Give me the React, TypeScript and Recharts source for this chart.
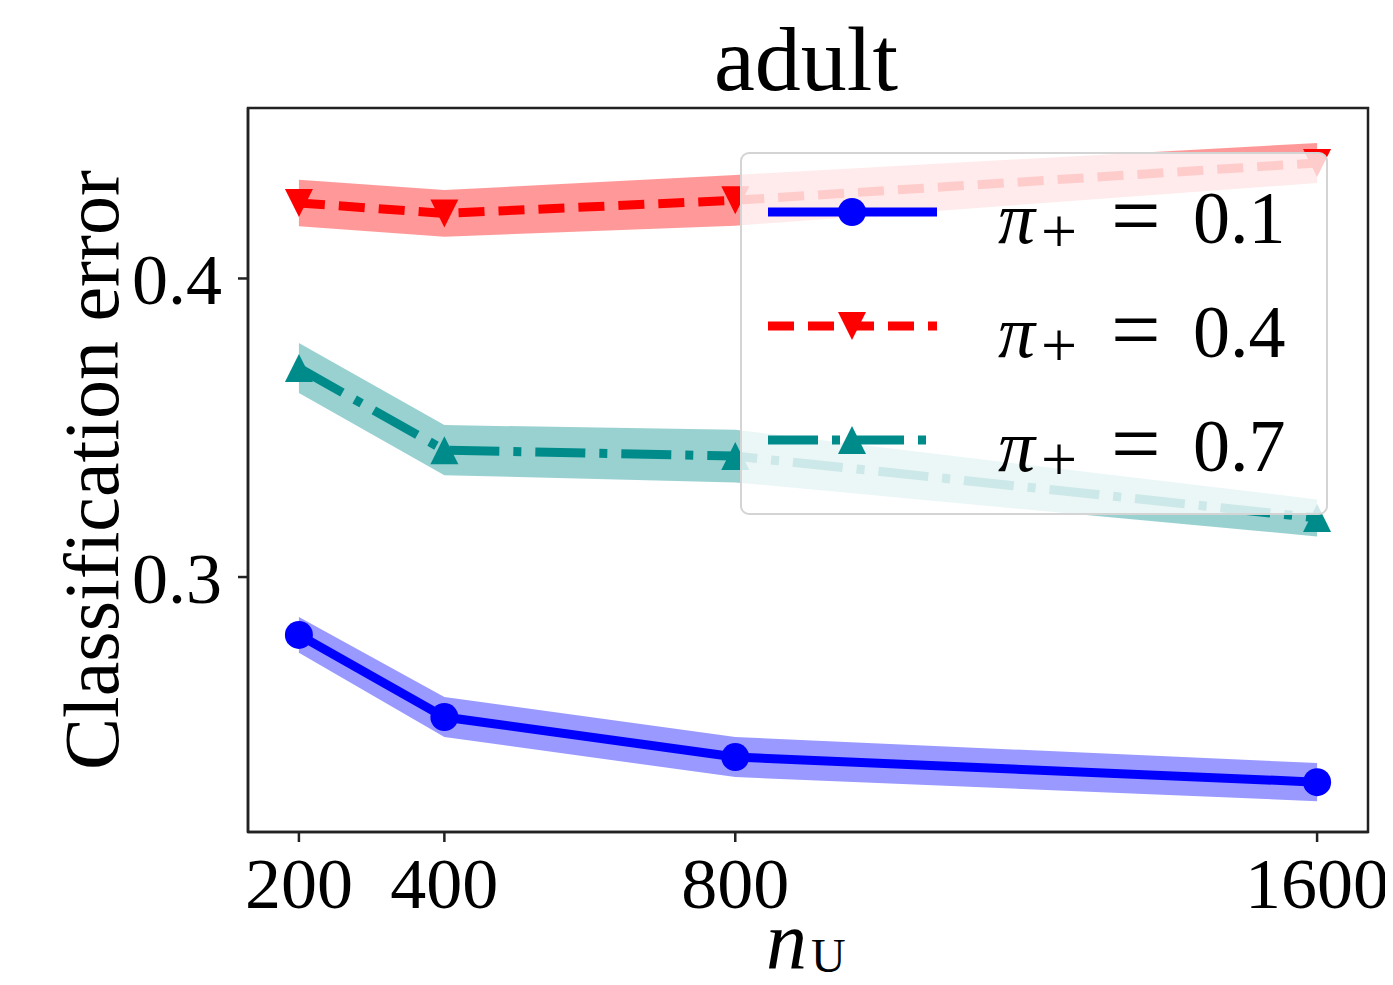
import React from 'react';
import { ComposedChart, Line, Area, XAxis, YAxis, Legend, ReferenceArea } from 'recharts';

// ---- data ----
const nU = [200, 400, 800, 1600];
const xTicks = [200, 400, 800, 1600];
const yTicks = [0.3, 0.4];
const xDomain = [130, 1670];
const yDomain = [0.2146, 0.4571];

const err01 = [0.2806, 0.2531, 0.2397, 0.2313];
const std01 = [0.006, 0.0067, 0.0067, 0.0064];
const err04 = [0.4253, 0.4218, 0.4262, 0.4387];
const std04 = [0.0078, 0.0078, 0.0085, 0.0067];
const err07 = [0.3700, 0.3425, 0.3405, 0.3198];
const std07 = [0.0084, 0.0084, 0.0088, 0.0062];

const titleText = 'adult';
const yLabelText = 'Classification error';
const xLabelMain = 'n';
const xLabelSub = 'U';
const legendValues = ['0.1', '0.4', '0.7'];

const FONT = '"Liberation Serif", "DejaVu Serif", serif';
const AXIS = '#222';

const data = nU.map((n, i) => ({
  n,
  e01: err01[i],
  b01: [err01[i] - std01[i], err01[i] + std01[i]],
  e04: err04[i],
  b04: [err04[i] - std04[i], err04[i] + std04[i]],
  e07: err07[i],
  b07: [err07[i] - std07[i], err07[i] + std07[i]],
}));

type Marker = 'circle' | 'down' | 'up';
const series: { key: string; band: string; color: string; dash?: string; marker: Marker; label: string }[] = [
  { key: 'e01', band: 'b01', color: '#0000ff', marker: 'circle', label: legendValues[0] },
  { key: 'e04', band: 'b04', color: '#ff0000', dash: '26 14', marker: 'down', label: legendValues[1] },
  { key: 'e07', band: 'b07', color: '#008b8b', dash: '50 14 8 14', marker: 'up', label: legendValues[2] },
];

const markerShape = (m: Marker, cx: number, cy: number, color: string, key?: any) => {
  const h = 14;
  if (m === 'circle') return <circle key={key} cx={cx} cy={cy} r={h} fill={color} />;
  if (m === 'down')
    return <polygon key={key} points={`${cx - h},${cy - h} ${cx + h},${cy - h} ${cx},${cy + h}`} fill={color} />;
  return <polygon key={key} points={`${cx - h},${cy + h} ${cx + h},${cy + h} ${cx},${cy - h}`} fill={color} />;
};

const makeDot = (m: Marker, color: string) => (props: any) => {
  const { cx, cy, index } = props;
  if (cx == null || cy == null) return <g key={`d-${index}`} />;
  return markerShape(m, cx, cy, color, `d-${m}-${index}`);
};

// Y-axis label content: the rotated axis title, plus the chart title placed above the plot box
const renderYLabel = (props: any) => {
  const vb = props.viewBox || { x: 0, y: 100, width: 240, height: 724 };
  const cx = vb.x + 110;
  const cy = vb.y + vb.height / 2;
  const plotCenterX = vb.x + vb.width + 560;
  return (
    <g>
      <text x={cx} y={cy} transform={`rotate(-90, ${cx}, ${cy})`} textAnchor="middle" fontFamily={FONT} fontSize={78} fill="#000">
        {yLabelText}
      </text>
      <text x={plotCenterX - 2} y={vb.y - 18} textAnchor="middle" fontFamily={FONT} fontSize={92} fill="#000">
        {titleText}
      </text>
    </g>
  );
};

const renderXLabel = (props: any) => {
  const vb = props.viewBox || { x: 240, y: 824, width: 1120, height: 153 };
  const x = vb.x + vb.width / 2 - 42;
  const y = vb.y + vb.height - 17;
  return (
    <text x={x} y={y} fontFamily={FONT} fontSize={82} fill="#000">
      <tspan fontStyle="italic">{xLabelMain}</tspan>
      <tspan fontSize={48} dy={4} dx={4}>{xLabelSub}</tspan>
    </text>
  );
};

const renderLegend = () => {
  const W = 588;
  const H = 363;
  return (
    <div
      style={{
        width: W,
        height: H,
        boxSizing: 'border-box',
        border: '2px solid #d4d4d4',
        borderRadius: 9,
        background: 'rgba(255,255,255,0.8)',
      }}
    >
      <svg width={W - 4} height={H - 4} style={{ display: 'block' }}>
        {series.map((s, i) => {
          const cy = 58 + i * 114;
          return (
            <g key={s.key}>
              <line x1={26} x2={195} y1={cy} y2={cy} stroke={s.color} strokeWidth={9} strokeDasharray={s.dash} />
              {markerShape(s.marker, 110, cy, s.color)}
              <text x={256} y={cy + 31} fontFamily={FONT} fontSize={74} fill="#000">
                <tspan fontStyle="italic">π</tspan>
                <tspan fontSize={64} dy={10} x={299}>+</tspan>
                <tspan fontSize={88} dy={-8} x={369}>=</tspan>
                <tspan dy={-2} x={451}>{s.label}</tspan>
              </text>
            </g>
          );
        })}
      </svg>
    </div>
  );
};

const tickStyle = { fontFamily: FONT, fontSize: 72, fill: '#000' };
const lineStyle = { stroke: AXIS, strokeWidth: 2.5 };

export default function App() {
  return (
    <div style={{ width: 1385, height: 977 }}>
      <ComposedChart width={1385} height={977} data={data} margin={{ top: 100, right: 25, bottom: 0, left: 0 }}>
        <XAxis
          dataKey="n"
          type="number"
          domain={xDomain}
          ticks={xTicks}
          interval={0}
          allowDataOverflow
          height={153}
          tickSize={10}
          tickMargin={15}
          tick={tickStyle}
          tickLine={lineStyle}
          axisLine={lineStyle}
          label={{ content: renderXLabel }}
        />
        <YAxis
          type="number"
          domain={yDomain}
          ticks={yTicks}
          interval={0}
          allowDataOverflow
          width={240}
          tickSize={10}
          tickMargin={16}
          tick={tickStyle}
          tickLine={lineStyle}
          axisLine={lineStyle}
          tickFormatter={(v: number) => v.toFixed(1)}
          label={{ content: renderYLabel }}
        />
        <ReferenceArea
          x1={xDomain[0]}
          x2={xDomain[1]}
          y1={yDomain[0]}
          y2={yDomain[1]}
          fill="none"
          fillOpacity={0}
          stroke={AXIS}
          strokeWidth={2.5}
          ifOverflow="visible"
        />
        {series.map((s) => (
          <Area
            key={s.band}
            dataKey={s.band}
            type="linear"
            stroke="none"
            fill={s.color}
            fillOpacity={0.4}
            dot={false}
            activeDot={false}
            legendType="none"
            isAnimationActive={false}
          />
        ))}
        {series.map((s) => (
          <Line
            key={s.key}
            dataKey={s.key}
            type="linear"
            stroke={s.color}
            strokeWidth={9}
            strokeDasharray={s.dash}
            dot={makeDot(s.marker, s.color)}
            activeDot={false}
            isAnimationActive={false}
          />
        ))}
        <Legend
          layout="horizontal"
          verticalAlign="middle"
          align="center"
          width={588}
          height={363}
          wrapperStyle={{ left: 732, top: 144, width: 588, height: 363 }}
          content={renderLegend}
        />
      </ComposedChart>
    </div>
  );
}
